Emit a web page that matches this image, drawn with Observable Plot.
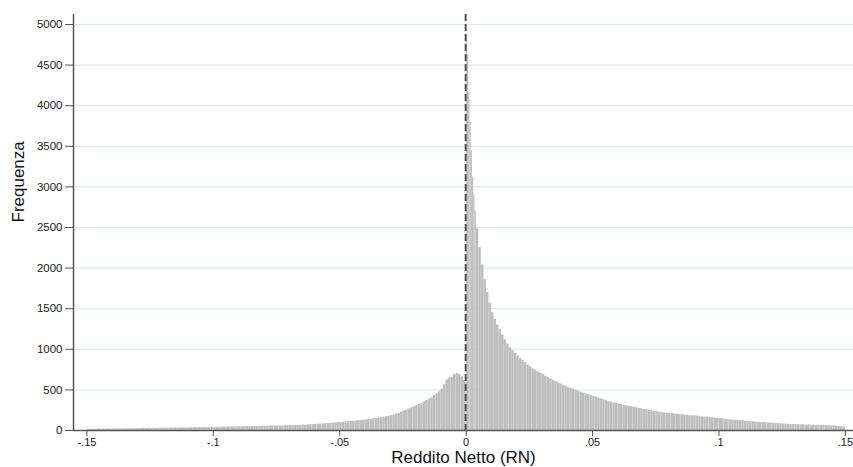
<!DOCTYPE html>
<html>
<head>
<meta charset="utf-8">
<script src="https://cdn.jsdelivr.net/npm/d3@7"></script>
<script src="https://cdn.jsdelivr.net/npm/@observablehq/plot@0.6"></script>
<style>
  html, body { margin: 0; padding: 0; background: #fff; }
  #chart svg { display: block; }
</style>
</head>
<body>
<div id="chart"></div>
<script>
// Histogram of "Reddito Netto (RN)"
const binWidth = 0.001;      // regular bins
const peakBinWidth = 0.0005; // finer bins right after zero (0 .. 0.004)
// counts for bins from -0.150 up to 0 (150 bins of 0.001)
const leftCounts = [
  12,14,16,13,17,15,18,16,19,17,20,18,21,19,22,20,23,21,24,22,
  25,23,26,24,27,25,28,26,27,29,28,30,29,31,30,32,31,33,32,34,33,35,34,36,35,37,36,38,37,39,
  38,40,39,41,42,41,43,44,43,45,46,45,47,48,47,49,50,49,51,52,51,53,54,55,54,56,57,56,58,59,60,59,61,62,
  63,66,65,69,70,73,74,77,78,81,83,86,88,91,93,96,98,102,104,109,
  111,116,115,123,122,130,129,137,136,145,146,152,158,
  164,172,174,184,190,202,210,
  226,240,250,268,279,296,
  305,320,330,352,
  368,388,402,430,
  450,478,508,562,
  622,648,655,692,702,688,662,615
];
// counts for the fine bins from 0 to 0.004 (8 bins of 0.0005)
const peakCounts = [4880,4620,4150,3800,3450,3120,2900,2700];
// counts for bins from 0.004 up to 0.150 (146 bins of 0.001)
const rightCounts = [
  2480,2250,2040,1860,1700,1570,
  1450,1370,1300,1240,1175,1120,1065,1020,985,950,
  915,890,860,835,805,785,760,745,722,705,
  690,668,652,636,618,602,588,572,556,545,
  530,520,506,496,482,472,462,450,441,430,
  420,412,398,390,378,370,356,350,338,333,
  325,319,310,305,297,293,284,280,271,267,
  260,256,248,244,236,233,225,222,216,214,
  210,208,203,202,197,196,190,189,183,181,
  178,176,170,169,164,163,157,156,151,150,
  146,144,139,137,132,131,126,125,120,119,
  115,113,108,107,103,103,99,98,94,93,
  90,89,85,85,81,81,77,77,73,74,
  72,72,69,70,67,68,65,66,63,64,
  62,62,59,60,56,55,52,51,47,44
];
const yTicks = [0,500,1000,1500,2000,2500,3000,3500,4000,4500,5000];
const xTicks = [-0.15,-0.1,-0.05,0,0.05,0.1,0.15];
const xTickLabels = ["-.15","-.1","-.05","0",".05",".1",".15"];

const peakEnd = peakCounts.length * peakBinWidth;
const bins = [
  ...leftCounts.map((n, i) => ({x1: -0.15 + i * binWidth, x2: -0.15 + (i + 1) * binWidth, n})),
  ...peakCounts.map((n, i) => ({x1: i * peakBinWidth, x2: (i + 1) * peakBinWidth, n})),
  ...rightCounts.map((n, i) => ({x1: peakEnd + i * binWidth, x2: peakEnd + (i + 1) * binWidth, n}))
];

const xMin = -0.1553, xMax = 0.1532;

const chart = Plot.plot({
  width: 853,
  height: 467,
  marginLeft: 73,
  marginRight: 0,
  marginTop: 14,
  marginBottom: 37,
  x: {domain: [xMin, xMax]},
  y: {domain: [0, 5123]},
  style: {fontFamily: "'Liberation Sans', Arial, Helvetica, sans-serif", background: "white", color: "#222"},
  marks: [
    Plot.gridY(yTicks, {stroke: "#dcebee", strokeOpacity: 1, strokeWidth: 1.2}),
    Plot.rect(bins, {x1: "x1", x2: "x2", y1: 0, y2: "n", fill: "#bfbfbf", inset: 0}),
    Plot.ruleX([0], {stroke: "#505050", strokeWidth: 2, strokeDasharray: "7,3", dx: -0.5}),
    Plot.ruleY([0], {stroke: "#555", strokeWidth: 1.5}),
    Plot.ruleX([xMin], {stroke: "#555", strokeWidth: 1.5}),
    Plot.axisY(yTicks, {tickSize: 8, tickPadding: 3, fontSize: 11.5, label: null, stroke: "#555", tickFormat: "d"}),
    Plot.axisX(xTicks, {tickSize: 6, tickPadding: 2, fontSize: 11, label: null, stroke: "#555",
      tickFormat: (d) => xTickLabels[xTicks.indexOf(d)]}),
    Plot.text(["Frequenza"], {frameAnchor: "left", rotate: -90, dx: -55, fontSize: 17, fill: "#111"}),
    Plot.text(["Reddito Netto (RN)"], {frameAnchor: "bottom", dy: 32, fontSize: 17, fill: "#111"})
  ]
});
document.getElementById("chart").appendChild(chart);
</script>
</body>
</html>
